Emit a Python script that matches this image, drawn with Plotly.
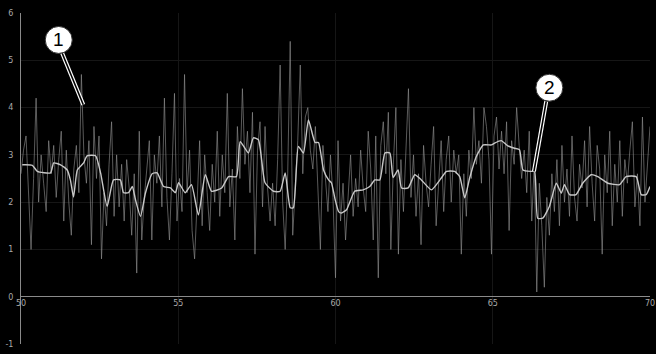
import plotly.graph_objects as go

# x axis grid of the raw signal
x_start = 50.0
x_step = 0.08

raw_values = [
    2.6, 3.1, 3.4, 2.2, 1.0, 2.5, 4.2, 2.0, 3.0, 2.4, 1.8, 3.3, 2.6, 3.2, 2.1, 2.9, 3.5, 1.6, 3.1, 2.0, 1.3, 2.7, 3.2, 2.2, 4.7,
    3.0, 2.4, 3.3, 1.1, 3.6, 2.5, 3.4, 0.8, 2.2, 1.5, 2.8, 3.7, 1.7, 3.0, 1.9, 2.8, 1.6, 2.9, 2.3, 1.3, 2.6, 0.5, 3.5, 1.2, 2.1,
    2.7, 3.3, 1.2, 3.0, 2.4, 3.4, 1.9, 4.2, 2.1, 1.2, 2.6, 4.3, 1.6, 2.5, 1.8, 4.7, 2.2, 3.1, 1.4, 0.8, 2.0, 3.3, 1.5, 3.0, 2.2,
    1.4, 2.8, 2.0, 3.5, 1.7, 3.0, 2.2, 4.3, 1.9, 2.7, 1.2, 3.6, 2.5, 4.4, 2.8, 3.5, 2.2, 3.9, 0.9, 3.1, 3.7, 1.9, 3.6, 2.3, 1.6,
    2.4, 1.5, 2.9, 4.9, 2.0, 1.0, 2.6, 5.4, 1.3, 2.2, 3.3, 4.9, 2.6, 3.8, 4.0, 3.1, 2.7, 3.6, 2.2, 1.0, 3.2, 2.4, 1.8, 3.0, 2.1,
    0.4, 3.3, 1.6, 2.4, 1.2, 2.2, 3.0, 1.7, 2.5, 1.9, 3.1, 2.3, 1.8, 3.5, 2.7, 1.2, 3.4, 0.4, 3.2, 3.7, 2.6, 3.9, 1.0, 2.8, 4.0,
    0.9, 2.9, 1.8, 3.0, 4.4, 2.1, 3.0, 1.7, 2.6, 1.1, 3.2, 2.4, 1.9, 2.8, 3.6, 1.5, 2.5, 3.3, 1.8, 2.9, 3.4, 2.0, 3.1, 2.6, 3.0,
    0.9, 2.6, 1.7, 3.1, 2.5, 4.0, 2.8, 3.3, 2.4, 4.0, 3.6, 2.9, 0.9, 3.4, 3.8, 2.7, 3.5, 2.6, 3.7, 1.4, 3.3, 2.8, 4.0, 3.2, 2.5,
    3.1, 2.2, 3.5, 1.6, 2.8, 0.1, 2.4, 1.5, 0.2, 2.1, 1.3, 2.6, 1.8, 2.9, 1.5, 3.2, 2.0, 2.7, 1.7, 3.4, 2.1, 1.6, 2.8, 2.3, 3.3,
    1.9, 3.6, 2.4, 1.6, 3.2, 2.7, 0.9, 3.0, 2.2, 3.5, 1.5, 2.8, 2.0, 3.3, 1.7, 2.9, 2.4, 3.1, 3.7, 1.9, 2.6, 1.5, 3.8, 2.0, 2.7, 3.6,
]
raw_x = [round(x_start + x_step * i, 4) for i in range(len(raw_values))]

smooth_x = [
    50.04, 50.36, 50.52, 50.94, 51.04, 51.26, 51.47, 51.57, 51.67, 51.79, 51.99, 52.10, 52.37, 52.53, 52.74,
    52.94, 53.16, 53.26, 53.42, 53.54, 53.64, 53.80, 53.96, 54.17, 54.33, 54.53, 54.75, 54.91, 55.01, 55.22,
    55.42, 55.64, 55.86, 56.06, 56.38, 56.60, 56.85, 56.97, 57.23, 57.39, 57.55, 57.76, 58.03, 58.24, 58.40,
    58.56, 58.66, 58.82, 58.98, 59.14, 59.35, 59.46, 59.62, 59.78, 59.87, 59.99, 60.10, 60.19, 60.35, 60.61,
    60.88, 61.09, 61.25, 61.41, 61.57, 61.73, 61.83, 61.99, 62.10, 62.31, 62.52, 62.73, 63.05, 63.32, 63.53,
    63.79, 63.95, 64.11, 64.27, 64.48, 64.70, 64.96, 65.06, 65.27, 65.48, 65.69, 65.85, 65.96, 66.22, 66.33,
    66.43, 66.59, 66.80, 67.02, 67.18, 67.28, 67.44, 67.65, 67.86, 68.13, 68.34, 68.66, 69.03, 69.24, 69.56,
    69.72, 69.88, 70.00,
]
smooth_y = [
    2.79, 2.78, 2.65, 2.62, 2.83, 2.79, 2.68, 2.47, 2.11, 2.68, 2.83, 2.98, 2.98, 2.62, 1.91,
    2.47, 2.47, 2.20, 2.20, 2.33, 2.05, 1.70, 2.20, 2.60, 2.62, 2.33, 2.30, 2.20, 2.41, 2.20,
    2.37, 1.73, 2.58, 2.23, 2.30, 2.54, 2.54, 3.28, 3.04, 3.36, 3.32, 2.41, 2.23, 2.23, 2.62,
    1.88, 1.88, 3.18, 3.04, 3.74, 3.26, 3.26, 2.68, 2.47, 2.41, 2.05, 1.80, 1.77, 1.84, 2.23,
    2.26, 2.33, 2.47, 2.47, 3.04, 3.04, 2.52, 2.68, 2.30, 2.30, 2.58, 2.47, 2.26, 2.47, 2.65,
    2.65, 2.54, 2.09, 2.52, 2.97, 3.21, 3.21, 3.25, 3.30, 3.19, 3.14, 3.11, 2.68, 2.65, 2.65,
    1.66, 1.66, 1.91, 2.40, 2.19, 2.37, 2.16, 2.16, 2.40, 2.58, 2.54, 2.40, 2.37, 2.54, 2.54,
    2.16, 2.16, 2.33,
]

x_ticks = [50, 55, 60, 65, 70]
y_ticks = [-1, 0, 1, 2, 3, 4, 5, 6]

callout_labels = ["1", "2"]
callout_centers = [(51.20, 5.43), (66.80, 4.42)]
callout_targets = [(51.98, 4.06), (66.31, 2.65)]
callout_starts = [(51.31, 5.15), (66.70, 4.13)]

fig = go.Figure()
fig.add_trace(go.Scatter(x=raw_x, y=raw_values, mode="lines",
                         line=dict(color="rgba(150,150,150,0.6)", width=1),
                         hoverinfo="skip", showlegend=False))
fig.add_trace(go.Scatter(x=smooth_x, y=smooth_y, mode="lines",
                         line=dict(color="#c8c8c8", width=1.4, shape="spline", smoothing=0.5),
                         showlegend=False))

shapes = []
annotations = []
rx, ry = 13.5 / 31.45, 13.5 / 47.3
for lab, (cx, cy), (sx, sy), (tx, ty) in zip(callout_labels, callout_centers, callout_starts, callout_targets):
    shapes.append(dict(type="line", xref="x", yref="y", x0=sx, y0=sy, x1=tx, y1=ty,
                       line=dict(color="white", width=4), layer="above"))
    shapes.append(dict(type="line", xref="x", yref="y", x0=sx, y0=sy, x1=tx, y1=ty,
                       line=dict(color="black", width=1.6), layer="above"))
    shapes.append(dict(type="circle", xref="x", yref="y", x0=cx - rx, x1=cx + rx, y0=cy - ry, y1=cy + ry,
                       fillcolor="white", line=dict(color="#333", width=1), layer="above"))
    annotations.append(dict(x=cx, y=cy, xref="x", yref="y", text=lab, showarrow=False,
                            font=dict(family="Liberation Sans, Arial", size=19, color="black")))

fig.update_layout(
    width=656, height=354,
    paper_bgcolor="black", plot_bgcolor="black",
    margin=dict(l=21, r=6, t=13, b=10, autoexpand=False),
    shapes=shapes, annotations=annotations,
    xaxis=dict(range=[50, 70], tickvals=x_ticks, ticktext=[str(v) for v in x_ticks],
               showgrid=True, gridcolor="#161616", gridwidth=1, zeroline=False,
               anchor="free", position=1 / 7, showline=False, ticks="", automargin=False,
               tickfont=dict(family="DejaVu Sans", size=8, color="#aaaaaa")),
    yaxis=dict(range=[-1, 6], tickvals=y_ticks, ticktext=[str(v) for v in y_ticks],
               showgrid=True, gridcolor="#161616", gridwidth=1,
               zeroline=True, zerolinecolor="#8a8a8a", zerolinewidth=1, automargin=False,
               showline=True, linecolor="#8a8a8a", linewidth=1, ticks="", ticklabelstandoff=5,
               tickfont=dict(family="DejaVu Sans", size=8, color="#aaaaaa")),
)

fig.write_html("out.html", config={"displayModeBar": False},
               post_script="document.body.style.margin='0';document.body.style.background='black';")
